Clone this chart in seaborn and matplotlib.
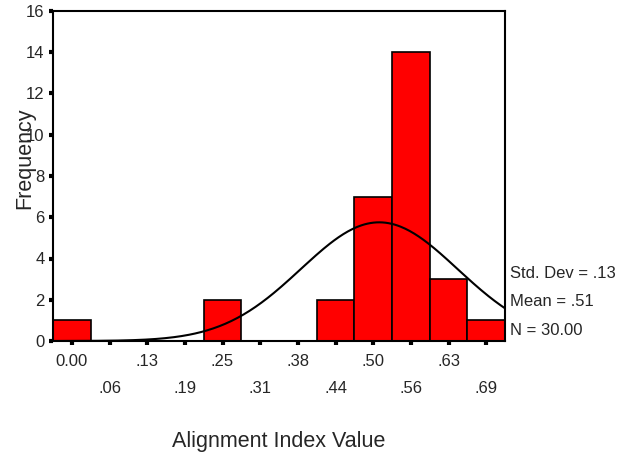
import numpy as np
import pandas as pd
import seaborn as sns
import matplotlib.pyplot as plt

# Histogram bins (centres) and counts
bin_centers = [0.0, 0.0625, 0.125, 0.1875, 0.25, 0.3125, 0.375, 0.4375, 0.5, 0.5625, 0.625, 0.6875]
counts = [1, 0, 0, 0, 2, 0, 0, 2, 7, 14, 3, 1]
tick_labels = ['0.00', '.06', '.13', '.19', '.25', '.31', '.38', '.44', '.50', '.56', '.63', '.69']
std_dev = 0.13
mean = 0.51
n_total = 30

bin_width = bin_centers[1] - bin_centers[0]
edges = [c - bin_width / 2 for c in bin_centers] + [bin_centers[-1] + bin_width / 2]

df = pd.DataFrame({'value': bin_centers, 'count': counts})

sns.set_style('ticks')
plt.rcParams['font.family'] = ['Liberation Sans', 'DejaVu Sans']

fig = plt.figure(figsize=(6.21, 4.61), dpi=100)
ax = fig.add_axes([53 / 621, 1 - 341 / 461, 452 / 621, 330 / 461])

sns.histplot(data=df, x='value', weights='count', bins=edges, color='#ff0000',
             alpha=1, edgecolor='black', linewidth=1.2, ax=ax)

# fitted normal curve
xs = np.linspace(edges[0], edges[-1], 300)
ys = n_total * bin_width * np.exp(-0.5 * ((xs - mean) / std_dev) ** 2) / (std_dev * np.sqrt(2 * np.pi))
sns.lineplot(x=xs, y=ys, color='black', linewidth=1.5, ax=ax)

ax.set_xlim(edges[0], edges[-1])
ax.set_ylim(0, 16)
ax.set_yticks(range(0, 17, 2))

ax.set_xticks(bin_centers[0::2])
ax.set_xticklabels(tick_labels[0::2])
ax.set_xticks(bin_centers[1::2], minor=True)
ax.set_xticklabels(tick_labels[1::2], minor=True)

ax.tick_params(axis='both', which='both', length=3, width=3, color='black',
               labelsize=12, direction='out')
ax.tick_params(axis='x', which='major', pad=6)
ax.tick_params(axis='x', which='minor', pad=26)
ax.tick_params(axis='y', pad=3)

for s in ax.spines.values():
    s.set_visible(True)
    s.set_linewidth(1.5)
    s.set_color('black')

ax.set_xlabel('Alignment Index Value', fontsize=15.5)
ax.set_ylabel('Frequency', fontsize=15.5)
ax.xaxis.set_label_coords(0.499, -0.273)
ax.yaxis.set_label_coords(-0.040, 0.555)

for txt, ypix in [('Std. Dev = .13', 273), ('Mean = .51', 301), ('N = 30.00', 330)]:
    fig.text(510 / 621, 1 - ypix / 461, txt, fontsize=12, va='center', ha='left')

fig.savefig('out.png', dpi=100)
